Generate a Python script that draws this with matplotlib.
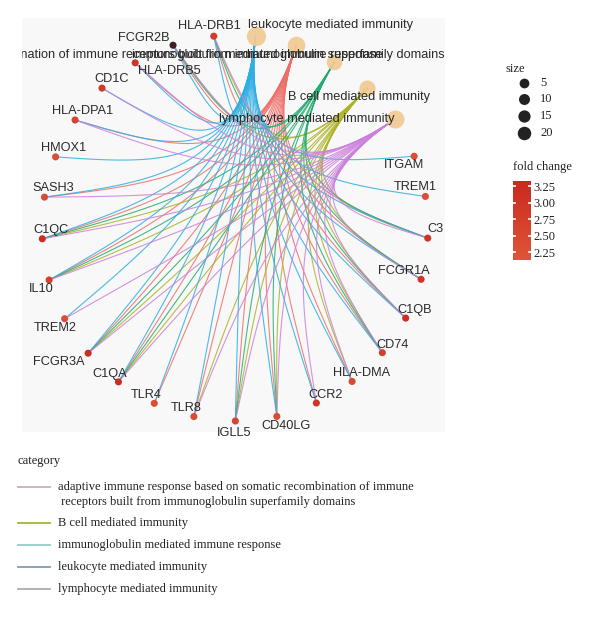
import numpy as np
import matplotlib
matplotlib.use('Agg')
import matplotlib.pyplot as plt
from matplotlib.colors import LinearSegmentedColormap, Normalize

# ---- data ----
categories = [
    'adaptive immune response based on somatic recombination of immune receptors built from immunoglobulin superfamily domains',
    'B cell mediated immunity',
    'immunoglobulin mediated immune response',
    'leukocyte mediated immunity',
    'lymphocyte mediated immunity',
]
legend_labels = [
    'adaptive immune response based on somatic recombination of immune\n receptors built from immunoglobulin superfamily domains',
    'B cell mediated immunity',
    'immunoglobulin mediated immune response',
    'leukocyte mediated immunity',
    'lymphocyte mediated immunity',
]

genes = ['C3', 'TREM1', 'ITGAM', 'HLA-DRB1', 'FCGR2B', 'HLA-DRB5', 'CD1C', 'HLA-DPA1',
         'HMOX1', 'SASH3', 'C1QC', 'IL10', 'TREM2', 'FCGR3A', 'C1QA', 'TLR4', 'TLR8',
         'IGLL5', 'CD40LG', 'CCR2', 'HLA-DMA', 'CD74', 'C1QB', 'FCGR1A']
fold_change = [3.05, 2.35, 2.35, 2.80, 1.50, 3.00, 2.95, 2.65,
               2.35, 2.40, 3.25, 2.75, 2.35, 3.25, 3.25, 2.35, 2.40,
               2.60, 2.40, 3.00, 2.45, 2.75, 3.25, 3.05]

gene_sets = {
    categories[0]: ['C3', 'FCGR1A', 'C1QB', 'CD74', 'HLA-DMA', 'CCR2', 'CD40LG', 'IGLL5',
                    'TLR4', 'TLR8', 'C1QA', 'FCGR3A', 'IL10', 'C1QC', 'SASH3', 'HLA-DPA1',
                    'HLA-DRB5', 'FCGR2B', 'HLA-DRB1'],
    categories[1]: ['C3', 'FCGR1A', 'C1QB', 'CD74', 'HLA-DMA', 'CD40LG', 'IGLL5', 'C1QA',
                    'FCGR3A', 'IL10', 'C1QC', 'FCGR2B', 'HLA-DRB1', 'TLR8'],
    categories[2]: ['C3', 'FCGR1A', 'C1QB', 'CD40LG', 'IGLL5', 'C1QA', 'FCGR3A', 'IL10',
                    'C1QC', 'FCGR2B', 'HLA-DRB1', 'CD74'],
    categories[3]: list(genes),
    categories[4]: [g for g in genes if g not in ('ITGAM', 'TREM1', 'HMOX1', 'TLR4')],
}

# circular layout order (counter-clockwise from east)
ring = ['C3', 'TREM1', 'ITGAM', categories[4], categories[1], categories[2], categories[0],
        categories[3], 'HLA-DRB1', 'FCGR2B', 'HLA-DRB5', 'CD1C', 'HLA-DPA1', 'HMOX1',
        'SASH3', 'C1QC', 'IL10', 'TREM2', 'FCGR3A', 'C1QA', 'TLR4', 'TLR8', 'IGLL5',
        'CD40LG', 'CCR2', 'HLA-DMA', 'CD74', 'C1QB', 'FCGR1A']

edge_colors = ['#ee6f6a', '#adb225', '#22ad70', '#2eaee3', '#cc80dc']
key_colors = ['#d7a9bb', '#9cb93a', '#93cfc3', '#7e9cb9', '#a9adb5']

# label offsets (px, y down) relative to node
gene_off = {'HLA-DRB1': (-4, -10), 'FCGR2B': (-29, -7), 'HLA-DRB5': (34, 8), 'CD1C': (10, -9),
            'HLA-DPA1': (8, -9), 'HMOX1': (8, -9), 'SASH3': (9, -9), 'C1QC': (9, -9),
            'IL10': (-8, 9), 'TREM2': (-9, 9), 'FCGR3A': (-29, 9), 'C1QA': (-9, -8),
            'TLR4': (-8, -8), 'TLR8': (-8, -9), 'IGLL5': (-1, 12), 'CD40LG': (9, 10),
            'CCR2': (9, -8), 'HLA-DMA': (9, -8), 'CD74': (10, -8), 'C1QB': (9, -8),
            'FCGR1A': (-17, -8), 'C3': (8, -9), 'TREM1': (-10, -9), 'ITGAM': (-10, 9)}

# ---- figure ----
fig = plt.figure(figsize=(6, 6.2), dpi=100)
fig.patch.set_facecolor('white')

# panel in px: x 22..445, y 18..432 ; circle centre (235,228), r=193
px_l, px_r, px_t, px_b = 22, 445, 18, 432
cx, cy, rad = 235, 228, 193
ax = fig.add_axes([px_l / 600, 1 - px_b / 620, (px_r - px_l) / 600, (px_b - px_t) / 620])
ax.set_xlim(-(cx - px_l) / rad, (px_r - cx) / rad)
ax.set_ylim(-(px_b - cy) / rad, (cy - px_t) / rad)
ax.set_facecolor('#f8f8f8')
for s in ax.spines.values():
    s.set_visible(False)
ax.set_xticks([])
ax.set_yticks([])

n = len(ring)
start = np.deg2rad(-3.0)
ang = {name: start + 2 * np.pi * i / n for i, name in enumerate(ring)}
pos = {k: np.array([np.cos(a), np.sin(a)]) for k, a in ang.items()}

# edges: cubic bezier, radial at the term end, softer at the gene end
t = np.linspace(0, 1, 100)[:, None]
for ci, cat in enumerate(categories):
    for g in gene_sets[cat]:
        p0, p3 = pos[cat], pos[g]
        c1 = 0.3 * p0
        c2 = 0.35 * (p0 + p3) / 2 + 0.25 * p3
        pts = ((1 - t) ** 3 * p0 + 3 * (1 - t) ** 2 * t * c1
               + 3 * (1 - t) * t ** 2 * c2 + t ** 3 * p3)
        ax.plot(pts[:, 0], pts[:, 1], color=edge_colors[ci], lw=0.8, alpha=0.85,
                solid_capstyle='round', zorder=2)

# gene nodes
cmap = LinearSegmentedColormap.from_list('fc', ['#df5538', '#c92a20'])
cmap.set_under('#3d2024')
norm = Normalize(vmin=2.13, vmax=3.33)
gx = [pos[g][0] for g in genes]
gy = [pos[g][1] for g in genes]
ax.scatter(gx, gy, s=26, c=fold_change, cmap=cmap, norm=norm, zorder=4, linewidths=0)

counts = [len(gene_sets[c]) for c in categories]
for cat, k in zip(categories, counts):
    d_pt = (12 + 0.3 * k) * 0.72
    ax.scatter(*pos[cat], s=d_pt ** 2, color='#f1ca94', alpha=0.92, zorder=4, linewidths=0)

lab_font = dict(family='Liberation Sans', fontsize=9.2, color='#2a2a2a')
for g in genes:
    dx, dy = gene_off[g]
    ax.annotate(g, xy=pos[g], xytext=(dx * 0.72, -dy * 0.72), textcoords='offset points',
                ha='center', va='center', zorder=5, **lab_font)

# category labels (absolute px positions)
cat_lab = {categories[3]: (330, 25, 'center'), categories[1]: (359, 97, 'center'),
           categories[4]: (307, 119, 'center'), categories[2]: (257, 55, 'center'),
           categories[0]: (445, 55, 'right')}
for cat in categories:
    x, y, ha = cat_lab[cat]
    ax.text((x - cx) / rad, (cy - y) / rad, cat, ha=ha, va='center', zorder=5,
            clip_on=True, **lab_font)

# ---- legends (figure pixel coords) ----
lax = fig.add_axes([0, 0, 1, 1], zorder=-1)
lax.set_xlim(0, 600)
lax.set_ylim(620, 0)
lax.axis('off')
leg_font = dict(family='Liberation Serif', fontsize=9, color='#222222')

lax.text(18, 461, 'category', ha='left', va='center', **leg_font)
rows_y = [487, 523, 545, 567, 589]
for i, lab in enumerate(legend_labels):
    lax.plot([18, 50], [rows_y[i], rows_y[i]], color=key_colors[i], lw=1.3)
    lax.text(58, rows_y[i] - 6, lab, ha='left', va='top', linespacing=1.35, **leg_font)

# size legend
lax.text(505, 69, 'size', ha='left', va='center', **leg_font)
size_vals = [5, 10, 15, 20]
size_y = [83, 99, 116, 133]
for v, y in zip(size_vals, size_y):
    d_pt = (8.5 + 0.25 * v) * 0.72
    lax.scatter([524], [y], s=d_pt ** 2, color='#222222', linewidths=0)
    lax.text(540, y, str(v), ha='left', va='center', **leg_font)

# fold change colour bar
lax.text(513, 167, 'fold change', ha='left', va='center', **leg_font)
cax = fig.add_axes([513 / 600, 1 - 260 / 620, 18 / 600, 79 / 620])
grad = np.linspace(norm.vmin, norm.vmax, 100)[:, None]
cax.imshow(grad, aspect='auto', cmap=cmap, norm=norm, origin='lower',
           extent=[0, 1, norm.vmin, norm.vmax])
cax.set_xticks([])
cb_ticks = [2.25, 2.50, 2.75, 3.00, 3.25]
cax.set_yticks(cb_ticks)
cax.set_yticklabels([f'{v:.2f}' for v in cb_ticks], family='Liberation Serif', fontsize=9,
                    color='#222222')
cax.yaxis.tick_right()
cax.tick_params(axis='y', direction='in', length=2.5, width=1.2, color='white',
                left=True, right=True, labelleft=False, labelright=True, pad=2)
for s in cax.spines.values():
    s.set_visible(False)

fig.savefig('out.png', dpi=100)
